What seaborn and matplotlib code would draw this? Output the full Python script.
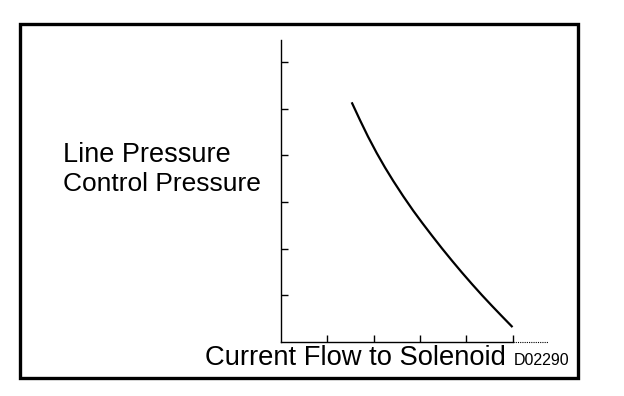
import matplotlib
matplotlib.use("Agg")
import matplotlib.pyplot as plt
import seaborn as sns
import pandas as pd
from matplotlib.patches import Rectangle

# Data (x: tick units, y: tick units)
current = [1.530, 1.709, 1.881, 2.069, 2.248, 2.427, 2.642, 2.858, 3.052,
           3.261, 3.476, 3.692, 3.907, 4.123, 4.338, 4.554, 4.769, 4.996]
pressure = [5.137, 4.755, 4.403, 4.049, 3.738, 3.448, 3.120, 2.809, 2.547,
            2.275, 2.002, 1.738, 1.483, 1.236, 0.998, 0.768, 0.545, 0.313]
x_ticks = [1, 2, 3, 4, 5]
y_ticks = [1, 2, 3, 4, 5, 6]
y_label_lines = ["Line Pressure", "Control Pressure"]
x_label = "Current Flow to Solenoid"
code_label = "D02290"

sns.set_style("white")
plt.rcParams['font.family'] = ['Liberation Sans', 'DejaVu Sans']

W, H = 624, 396
fig = plt.figure(figsize=(W / 100, H / 100), dpi=100)

def fx(px):
    return px / W

def fy(py):
    return 1 - py / H

# axes placement (pixels): y-axis at x=280.7, x-axis at y=341.7
x0, x1 = 280.7, 548.0
y0, y1 = 341.7, 40.0
ax = fig.add_axes([fx(x0), fy(y0), fx(x1) - fx(x0), fy(y1) - fy(y0)])
ax.set_xlim(0, (x1 - x0) / 46.4)
ax.set_ylim(0, (y0 - y1) / 46.6)

df = pd.DataFrame({"current": current, "pressure": pressure})
sns.lineplot(data=df, x="current", y="pressure", ax=ax, color="black",
             linewidth=1.6, sort=False, solid_joinstyle="round",
             solid_capstyle="butt")

for s in ["top", "right"]:
    ax.spines[s].set_visible(False)
ax.spines["left"].set_color("black")
ax.spines["left"].set_linewidth(1.0)
ax.spines["bottom"].set_color("black")
ax.spines["bottom"].set_linewidth(1.0)
ax.spines["bottom"].set_bounds(0, x_ticks[-1])
ax.plot([x_ticks[-1], ax.get_xlim()[1]], [0, 0], color="black", lw=0.8,
        ls=(0, (1, 1)), clip_on=False)

ax.set_xticks(x_ticks)
ax.set_yticks(y_ticks)
ax.tick_params(axis="both", direction="in", length=5, width=1, color="black",
               labelbottom=False, labelleft=False, bottom=True, left=True)
ax.set_xlabel("")
ax.set_ylabel("")
ax.set_facecolor("white")

# text
fig.text(fx(62.7), fy(161.7), y_label_lines[0], fontsize=19.5, va="baseline",
         ha="left", color="black")
fig.text(fx(62.7), fy(190.7), y_label_lines[1], fontsize=19.0, va="baseline",
         ha="left", color="black")
fig.text(fx(205), fy(365), x_label, fontsize=19.7, va="baseline",
         ha="left", color="black")
fig.text(fx(514), fy(365), code_label, fontsize=11.5, va="baseline",
         ha="left", color="black")

# border
fig.patches.append(Rectangle((fx(19.7), fy(378.3)), fx(578.3) - fx(19.7),
                             fy(23.5) - fy(378.3), transform=fig.transFigure,
                             fill=False, edgecolor="black", linewidth=2.4))

fig.savefig("out.png", dpi=100, facecolor="white")
